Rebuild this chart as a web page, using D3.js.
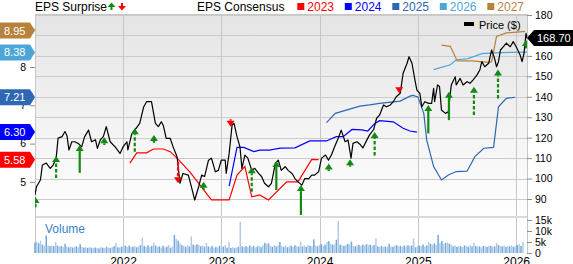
<!DOCTYPE html>
<html>
<head>
<meta charset="utf-8">
<script src="https://cdn.jsdelivr.net/npm/d3@7"></script>
<style>
  body { margin: 0; background: #fff; }
  svg { display: block; font-family: "Liberation Sans", Arial, sans-serif; }
</style>
</head>
<body>
<div id="chart"></div>
<script>
const WIDTH = 573;
const HEIGHT = 264;
const MARGIN = { LEFT: 35, RIGHT: 46, TOP: 14 };
const PRICE_BOTTOM = 217;
const VOLUME_TOP = 218;
const VOLUME_BOTTOM = 253;
const GREEN = "#118a11";
const RED = "#ff0000";

// time is in decimal years
const price = [
  [2021.105, 92], [2021.12, 96], [2021.16, 99.3], [2021.18, 106.6], [2021.22, 107.6],
  [2021.26, 105], [2021.29, 106.6], [2021.32, 110], [2021.34, 119.8], [2021.38, 120.5],
  [2021.41, 123], [2021.43, 121], [2021.45, 114], [2021.48, 118], [2021.51, 118],
  [2021.55, 117], [2021.58, 115.5], [2021.61, 120.5], [2021.65, 123.7], [2021.68, 118],
  [2021.72, 119], [2021.74, 114.8], [2021.77, 119], [2021.8, 120.5], [2021.83, 125.4],
  [2021.87, 118], [2021.92, 115.5], [2021.97, 112.3], [2022.0, 115.5], [2022.04, 118],
  [2022.05, 114], [2022.09, 122], [2022.12, 123.7], [2022.17, 127], [2022.21, 135],
  [2022.24, 137.6], [2022.29, 137.6], [2022.33, 127], [2022.36, 125.4], [2022.39, 127.8],
  [2022.41, 126], [2022.44, 119.7], [2022.48, 119.7], [2022.51, 115.5], [2022.55, 110.7],
  [2022.58, 97.7], [2022.61, 102.5], [2022.665, 101.7], [2022.7, 95.2], [2022.73, 89.5],
  [2022.77, 96], [2022.8, 101.7], [2022.83, 101], [2022.87, 109], [2022.9, 110],
  [2022.94, 103.3], [2022.97, 104], [2023.0, 109], [2023.04, 109], [2023.05, 102.5],
  [2023.08, 112.3], [2023.11, 126.2], [2023.13, 127], [2023.16, 120.5], [2023.19, 115.5],
  [2023.21, 105], [2023.24, 111.5], [2023.27, 110], [2023.31, 104], [2023.34, 105],
  [2023.38, 102.5], [2023.41, 101], [2023.44, 97.7], [2023.48, 96], [2023.51, 97.7],
  [2023.55, 107.4], [2023.58, 109], [2023.61, 104], [2023.65, 105.8], [2023.68, 104],
  [2023.72, 102.5], [2023.75, 100], [2023.78, 98.4], [2023.82, 96.8], [2023.85, 100],
  [2023.89, 100], [2023.92, 101.7], [2023.95, 101.7], [2023.99, 103.3], [2024.02, 110],
  [2024.06, 111.5], [2024.09, 109], [2024.12, 111.5], [2024.16, 116.4], [2024.19, 119.7],
  [2024.22, 123.7], [2024.26, 118], [2024.29, 118.8], [2024.32, 110], [2024.34, 117.2],
  [2024.38, 118], [2024.41, 116.8], [2024.44, 115], [2024.48, 118.8], [2024.51, 121.5],
  [2024.55, 124], [2024.58, 129.5], [2024.61, 131], [2024.65, 136], [2024.68, 135.1],
  [2024.72, 136], [2024.75, 137.6], [2024.78, 140], [2024.82, 141.7], [2024.85, 151.5],
  [2024.89, 156.4], [2024.91, 159.6], [2024.94, 156.4], [2024.97, 148.2], [2024.99, 143.3],
  [2025.02, 141.7], [2025.04, 135.1], [2025.07, 137.6], [2025.11, 136.8], [2025.14, 136.8],
  [2025.16, 144.1], [2025.17, 137.6], [2025.2, 145.8], [2025.22, 145], [2025.24, 133.5],
  [2025.28, 131.9], [2025.31, 132.7], [2025.33, 141.7], [2025.34, 145.8], [2025.38, 149.8],
  [2025.39, 145.8], [2025.43, 149], [2025.46, 145.8], [2025.5, 147.4], [2025.53, 146.6],
  [2025.56, 148.2], [2025.6, 150.6], [2025.63, 153.1], [2025.65, 157.2], [2025.68, 154.7],
  [2025.72, 156.4], [2025.75, 162.9], [2025.78, 158.8], [2025.8, 154.7], [2025.82, 157.2],
  [2025.84, 162.9], [2025.87, 164.5], [2025.9, 166.2], [2025.94, 164.5], [2025.97, 167],
  [2026.0, 164.5], [2026.04, 160.4], [2026.06, 157.2], [2026.08, 161.3], [2026.1, 171],
  [2026.11, 168.7],
];
const lastPrice = 168.7;

const consensus2023 = [
  [2022.07, 5.49], [2022.14, 5.76], [2022.24, 5.76], [2022.31, 5.86], [2022.41, 5.86],
  [2022.48, 5.79], [2022.55, 5.62], [2022.68, 5.26], [2022.9, 4.53], [2023.08, 4.53],
  [2023.16, 5.18], [2023.24, 5.4], [2023.31, 4.61], [2023.39, 4.66], [2023.48, 4.53],
  [2023.665, 5.0], [2023.78, 5.0], [2023.92, 5.59], [2023.99, 5.58],
];
const consensus2024 = [
  [2023.08, 4.89], [2023.16, 5.9], [2023.23, 5.9], [2023.33, 5.79], [2023.39, 5.83],
  [2023.49, 5.83], [2023.6, 5.88], [2023.75, 5.89], [2023.9, 6.07], [2024.07, 6.07],
  [2024.17, 6.18], [2024.24, 6.18], [2024.33, 6.37], [2024.43, 6.36], [2024.49, 6.33],
  [2024.56, 6.52], [2024.61, 6.6], [2024.75, 6.57], [2024.85, 6.4], [2024.92, 6.33],
  [2024.99, 6.3],
];
const consensus2025 = [
  [2024.07, 6.55], [2024.16, 6.79], [2024.28, 6.88], [2024.41, 6.98], [2024.51, 7.01],
  [2024.61, 7.05], [2024.82, 7.11], [2024.92, 7.24], [2024.95, 7.26], [2025.0, 7.22],
  [2025.06, 6.79], [2025.09, 6.09], [2025.16, 5.4], [2025.24, 5.05], [2025.31, 5.18],
  [2025.39, 5.27], [2025.5, 5.28], [2025.58, 5.66], [2025.67, 5.88], [2025.77, 5.9],
  [2025.82, 6.96], [2025.9, 7.18], [2025.99, 7.21],
];
const consensus2026 = [
  [2025.16, 7.93], [2025.33, 8.06], [2025.39, 8.19], [2025.51, 8.22], [2025.65, 8.35],
  [2025.78, 8.37], [2025.94, 8.38], [2026.11, 8.39],
];
const consensus2027 = [
  [2025.24, 8.57], [2025.33, 8.54], [2025.4, 8.16], [2025.55, 8.16], [2025.72, 8.12],
  [2025.75, 8.14], [2025.8, 8.8], [2025.9, 8.89], [2026.09, 8.93],
];
const consensusYears = ["2023", "2024", "2025", "2026", "2027"];
const consensusLatest = [5.58, 6.3, 7.21, 8.38, 8.95];

// surprise arrows: report time, price at the tail, price at the head
const surprises = [
  { t: 2021.11, from: 86, to: 91, dashed: true },
  { t: 2021.32, from: 100.3, to: 111, dashed: true },
  { t: 2021.56, from: 102.8, to: 116.4, dashed: false },
  { t: 2021.81, from: 116.4, to: 120.2, dashed: true },
  { t: 2022.12, from: 113.1, to: 124.6, dashed: true },
  { t: 2022.315, from: 117.5, to: 121.3, dashed: true },
  { t: 2022.56, from: 108.2, to: 97.7, dashed: true },
  { t: 2022.82, from: 94.4, to: 98.4, dashed: true },
  { t: 2023.095, from: 129, to: 125.4, dashed: true },
  { t: 2023.31, from: 93.6, to: 105.5, dashed: true },
  { t: 2023.56, from: 94.4, to: 108.6, dashed: false },
  { t: 2023.81, from: 82.2, to: 96.8, dashed: false },
  { t: 2024.093, from: 103.7, to: 107.4, dashed: true },
  { t: 2024.31, from: 105.8, to: 109.5, dashed: true },
  { t: 2024.56, from: 111.3, to: 122.8, dashed: true },
  { t: 2024.81, from: 144.6, to: 141.7, dashed: true },
  { t: 2025.106, from: 122.1, to: 136, dashed: false },
  { t: 2025.316, from: 128.6, to: 142.5, dashed: false },
  { t: 2025.57, from: 131.1, to: 144.9, dashed: true },
  { t: 2025.815, from: 139.2, to: 153.4, dashed: true },
  { t: 2026.1, from: 163.7, to: 167.8, dashed: false },
];

// weekly volume in thousands, first week at volumeStart
const volumeStart = 2021.105;
const volume = [
  4.8, 5.2, 4.4, 5.6, 3.8, 3.2, 8.0, 3.4, 3.2, 3.3,
  3.1, 5.0, 3.4, 2.9, 3.2, 2.8, 4.2, 3.0, 2.6, 2.9,
  2.5, 2.7, 3.0, 2.6, 4.0, 2.8, 2.4, 2.6, 2.3, 2.7,
  2.4, 2.2, 2.5, 2.3, 2.1, 2.6, 2.4, 2.2, 2.8, 2.5,
  2.3, 2.7, 3.1, 4.5, 2.6, 2.5, 2.9, 3.3, 3.3, 2.8,
  3.4, 2.7, 2.9, 3.1, 2.6, 3.0, 3.6, 7.0, 3.2, 2.9,
  3.5, 2.8, 3.2, 4.6, 3.4, 2.7, 3.0, 2.5, 3.3, 2.6,
  2.9, 3.6, 2.4, 3.0, 8.2, 6.4, 5.6, 4.4, 3.6, 3.2,
  2.8, 3.5, 3.0, 7.6, 3.8, 3.4, 4.0, 3.6, 3.1, 3.3,
  2.8, 4.6, 3.0, 2.6, 3.2, 2.4, 2.8, 2.5, 3.3, 2.2,
  2.9, 3.6, 2.4, 5.0, 2.3, 2.6, 2.2, 2.5, 2.8, 14.2,
  3.0, 2.7, 3.2, 2.6, 3.4, 2.8, 3.2, 2.5, 2.9, 3.3,
  2.7, 3.5, 4.6, 4.2, 4.4, 3.2, 2.8, 3.6, 3.0, 3.4,
  5.0, 3.2, 2.8, 3.4, 2.6, 3.0, 3.3, 2.7, 3.5, 3.1,
  2.9, 5.2, 3.0, 3.4, 2.8, 3.6, 3.2, 3.0, 6.2, 3.4,
  3.0, 3.6, 4.0, 3.2, 3.8, 5.0, 5.4, 4.2, 3.8, 4.0,
  6.0, 14.4, 3.8, 3.4, 3.2, 3.6, 4.2, 3.9, 5.2, 3.2,
  3.0, 3.4, 3.6, 3.2, 3.8, 3.4, 4.0, 3.6, 3.8, 3.3,
  3.6, 6.6, 3.0, 2.8, 3.2, 2.6, 3.0, 2.8, 4.2, 3.0,
  2.8, 3.4, 3.6, 3.0, 3.2, 2.8, 3.4, 3.0, 3.6, 3.2,
  3.4, 6.6, 2.6, 3.0, 3.4, 3.2, 3.8, 3.0, 3.4, 5.0,
  4.2, 3.8, 4.4, 3.6, 8.2, 4.6, 5.4, 4.0, 4.6, 4.8,
  4.2, 3.8, 3.0, 3.4, 2.8, 3.2, 3.0, 2.8, 3.4, 3.2,
  2.8, 3.6, 3.0, 4.6, 3.2, 2.8, 3.0, 2.6, 3.2, 3.0,
  2.8, 3.4, 3.2, 2.8, 3.0, 4.6, 3.6, 3.2, 3.0, 3.4,
  2.8, 3.2, 3.0, 3.4, 2.8, 3.0, 3.6, 4.0, 3.2, 5.0,
];

const yearTicks = [2022, 2023, 2024, 2025, 2026];
const priceTicks = [90, 100, 110, 120, 130, 140, 150, 160, 170, 180];
const epsTicks = [5, 6, 7, 8, 9];
const volumeTicks = [0, 5, 10, 15];

const CONSENSUS_COLORS = ["#ff0000", "#0000ff", "#2f67b4", "#4ea6d8", "#b8823c"];

const x = d3.scaleLinear([2021.105, 2026.11], [MARGIN.LEFT, WIDTH - MARGIN.RIGHT]);
const yPrice = d3.scaleLinear([81.2, 180.5], [PRICE_BOTTOM, MARGIN.TOP]);
const yEps = d3.scaleLinear([4.084, 9.384], [PRICE_BOTTOM, MARGIN.TOP]);
const yVolume = d3.scaleLinear([0, 15.9], [VOLUME_BOTTOM, VOLUME_TOP]);

const svg = d3.select("#chart")
  .append("svg")
  .attr("width", WIDTH)
  .attr("height", HEIGHT);

const defs = svg.append("defs");
const gradient = defs.append("linearGradient")
  .attr("id", "bg")
  .attr("x1", 0).attr("y1", 0).attr("x2", 0).attr("y2", 1);
gradient.append("stop").attr("offset", "0%").attr("stop-color", "#e4e4e4");
gradient.append("stop").attr("offset", "100%").attr("stop-color", "#ffffff");

defs.append("clipPath").attr("id", "plot")
  .append("rect")
  .attr("x", MARGIN.LEFT)
  .attr("y", MARGIN.TOP)
  .attr("width", x.range()[1] - MARGIN.LEFT)
  .attr("height", PRICE_BOTTOM - MARGIN.TOP);

const plotRight = x.range()[1];

// background + grid
svg.append("rect")
  .attr("x", MARGIN.LEFT).attr("y", MARGIN.TOP)
  .attr("width", plotRight - MARGIN.LEFT)
  .attr("height", PRICE_BOTTOM - MARGIN.TOP)
  .attr("fill", "url(#bg)");

svg.append("g")
  .selectAll("line")
  .data(priceTicks)
  .join("line")
  .attr("x1", MARGIN.LEFT).attr("x2", plotRight)
  .attr("y1", (d) => Math.round(yPrice(d)) + 0.5)
  .attr("y2", (d) => Math.round(yPrice(d)) + 0.5)
  .attr("stroke", "#cbcbcb");

svg.append("g")
  .selectAll("line")
  .data(yearTicks)
  .join("line")
  .attr("x1", (d) => Math.round(x(d)) + 0.5)
  .attr("x2", (d) => Math.round(x(d)) + 0.5)
  .attr("y1", MARGIN.TOP).attr("y2", VOLUME_BOTTOM)
  .attr("stroke", "#c6c6c6");

// panel separator and frame
svg.append("rect")
  .attr("x", MARGIN.LEFT).attr("y", PRICE_BOTTOM - 1)
  .attr("width", plotRight - MARGIN.LEFT).attr("height", 2)
  .attr("fill", "#dadada");
svg.append("path")
  .attr("d", `M${MARGIN.LEFT + 0.5},${VOLUME_BOTTOM}V${MARGIN.TOP + 0.5}H${plotRight + 0.5}V${VOLUME_BOTTOM}`)
  .attr("fill", "none")
  .attr("stroke", "#c6c6c6");

// volume
svg.append("g")
  .selectAll("rect")
  .data(volume)
  .join("rect")
  .attr("x", (d, i) => x(volumeStart + (i * 7) / 365.25) - 0.8)
  .attr("width", 1.5)
  .attr("y", (d) => yVolume(d))
  .attr("height", (d) => VOLUME_BOTTOM - yVolume(d))
  .attr("fill", (d, i) => (i % 2 ? "#aecbea" : "#74a8da"));

svg.append("text")
  .attr("x", 45).attr("y", 233)
  .attr("fill", "#3a82c8")
  .style("font-size", "12px")
  .text("Volume");

// consensus lines
const plot = svg.append("g").attr("clip-path", "url(#plot)");
const epsLine = d3.line().x((d) => x(d[0])).y((d) => yEps(d[1]));
[consensus2023, consensus2024, consensus2025, consensus2026, consensus2027].forEach((series, i) =>
  plot.append("path")
    .datum(series)
    .attr("d", epsLine)
    .attr("fill", "none")
    .attr("stroke", CONSENSUS_COLORS[i])
    .attr("stroke-width", 1.2)
);

// price
plot.append("path")
  .datum(price)
  .attr("d", d3.line().x((d) => x(d[0])).y((d) => yPrice(d[1])))
  .attr("fill", "none")
  .attr("stroke", "#000")
  .attr("stroke-width", 1.2)
  .attr("stroke-linejoin", "round");

// surprise arrows
const drawArrow = (g, { t, from, to, dashed }, head = 6) => {
  const up = to > from;
  const color = up ? GREEN : RED;
  const cx = x(t);
  const tip = yPrice(to);
  const neck = up ? tip + head : tip - head;
  g.append("line")
    .attr("x1", cx).attr("x2", cx)
    .attr("y1", yPrice(from)).attr("y2", neck)
    .attr("stroke", color)
    .attr("stroke-width", 2.2)
    .attr("stroke-dasharray", dashed ? "3.5,2" : null);
  g.append("path")
    .attr("d", `M${cx - 4},${neck}L${cx + 4},${neck}L${cx},${tip}Z`)
    .attr("fill", color);
};
surprises.forEach((s) => drawArrow(plot, s));

// axes
const rightAxis = svg.append("g")
  .attr("transform", `translate(${plotRight},0)`)
  .call(d3.axisRight(yPrice).tickValues(priceTicks).tickSize(5).tickPadding(3));
const volumeAxis = svg.append("g")
  .attr("transform", `translate(${plotRight},0)`)
  .call(d3.axisRight(yVolume).tickValues(volumeTicks).tickSize(5).tickPadding(3)
    .tickFormat((d) => (d ? `${d}k` : "0")));
const leftAxis = svg.append("g")
  .attr("transform", `translate(${MARGIN.LEFT},0)`)
  .call(d3.axisLeft(yEps).tickValues(epsTicks).tickSize(5).tickPadding(4)
    .tickFormat(d3.format("d")));
const bottomAxis = svg.append("g")
  .attr("transform", `translate(0,${VOLUME_BOTTOM})`)
  .call(d3.axisBottom(x).tickValues(yearTicks).tickSize(0).tickPadding(4).tickFormat((d) => d));

[rightAxis, volumeAxis, leftAxis, bottomAxis].forEach((axis) => {
  axis.select(".domain").remove();
  axis.selectAll("line").attr("stroke", "#8c8c8c");
  axis.selectAll("text")
    .attr("fill", "#000")
    .style("font-family", "'Liberation Sans', Arial, sans-serif")
    .style("font-size", "10.5px");
});
bottomAxis.selectAll("text").style("font-size", "12px");

// left value tags
consensusLatest.forEach((v, i) => {
  const cy = yEps(v);
  svg.append("path")
    .attr("d", `M0,${cy - 8}H30L35,${cy}L30,${cy + 8}H0Z`)
    .attr("fill", CONSENSUS_COLORS[i]);
  svg.append("text")
    .attr("x", 4).attr("y", cy + 4)
    .attr("fill", "#fff")
    .style("font-size", "11px")
    .text(v.toFixed(2));
});

// last price tag
const py = yPrice(lastPrice);
svg.append("path")
  .attr("d", `M${plotRight},${py}L${plotRight + 7},${py - 8}H${WIDTH}V${py + 8}H${plotRight + 7}Z`)
  .attr("fill", "#000");
svg.append("text")
  .attr("x", plotRight + 10).attr("y", py + 4)
  .attr("fill", "#fff")
  .style("font-size", "11px")
  .text(lastPrice.toFixed(2));

// legends
svg.append("text").attr("x", 35).attr("y", 11).style("font-size", "12px").text("EPS Surprise");
const drawLegendArrow = (cx, up) => {
  const color = up ? GREEN : RED;
  const g = svg.append("g");
  g.append("line")
    .attr("x1", cx).attr("x2", cx)
    .attr("y1", up ? 10 : 3).attr("y2", up ? 6 : 7)
    .attr("stroke", color).attr("stroke-width", 2);
  g.append("path")
    .attr("d", up ? `M${cx - 4},${7}L${cx + 4},${7}L${cx},${2.5}Z` : `M${cx - 4},${6}L${cx + 4},${6}L${cx},${10.5}Z`)
    .attr("fill", color);
};
drawLegendArrow(111.5, true);
drawLegendArrow(122, false);

svg.append("text").attr("x", 197).attr("y", 11).style("font-size", "12px").text("EPS Consensus");
consensusYears.forEach((year, i) => {
  const left = 297.3 + i * 47.5;
  svg.append("rect")
    .attr("x", left).attr("y", 3).attr("width", 7).attr("height", 7)
    .attr("fill", CONSENSUS_COLORS[i]);
  svg.append("text")
    .attr("x", left + 10).attr("y", 11)
    .attr("fill", CONSENSUS_COLORS[i])
    .style("font-size", "12px")
    .text(year);
});

svg.append("rect").attr("x", 464).attr("y", 22).attr("width", 10).attr("height", 4).attr("fill", "#000");
svg.append("text").attr("x", 479).attr("y", 29).style("font-size", "11px").text("Price ($)");
</script>
</body>
</html>
